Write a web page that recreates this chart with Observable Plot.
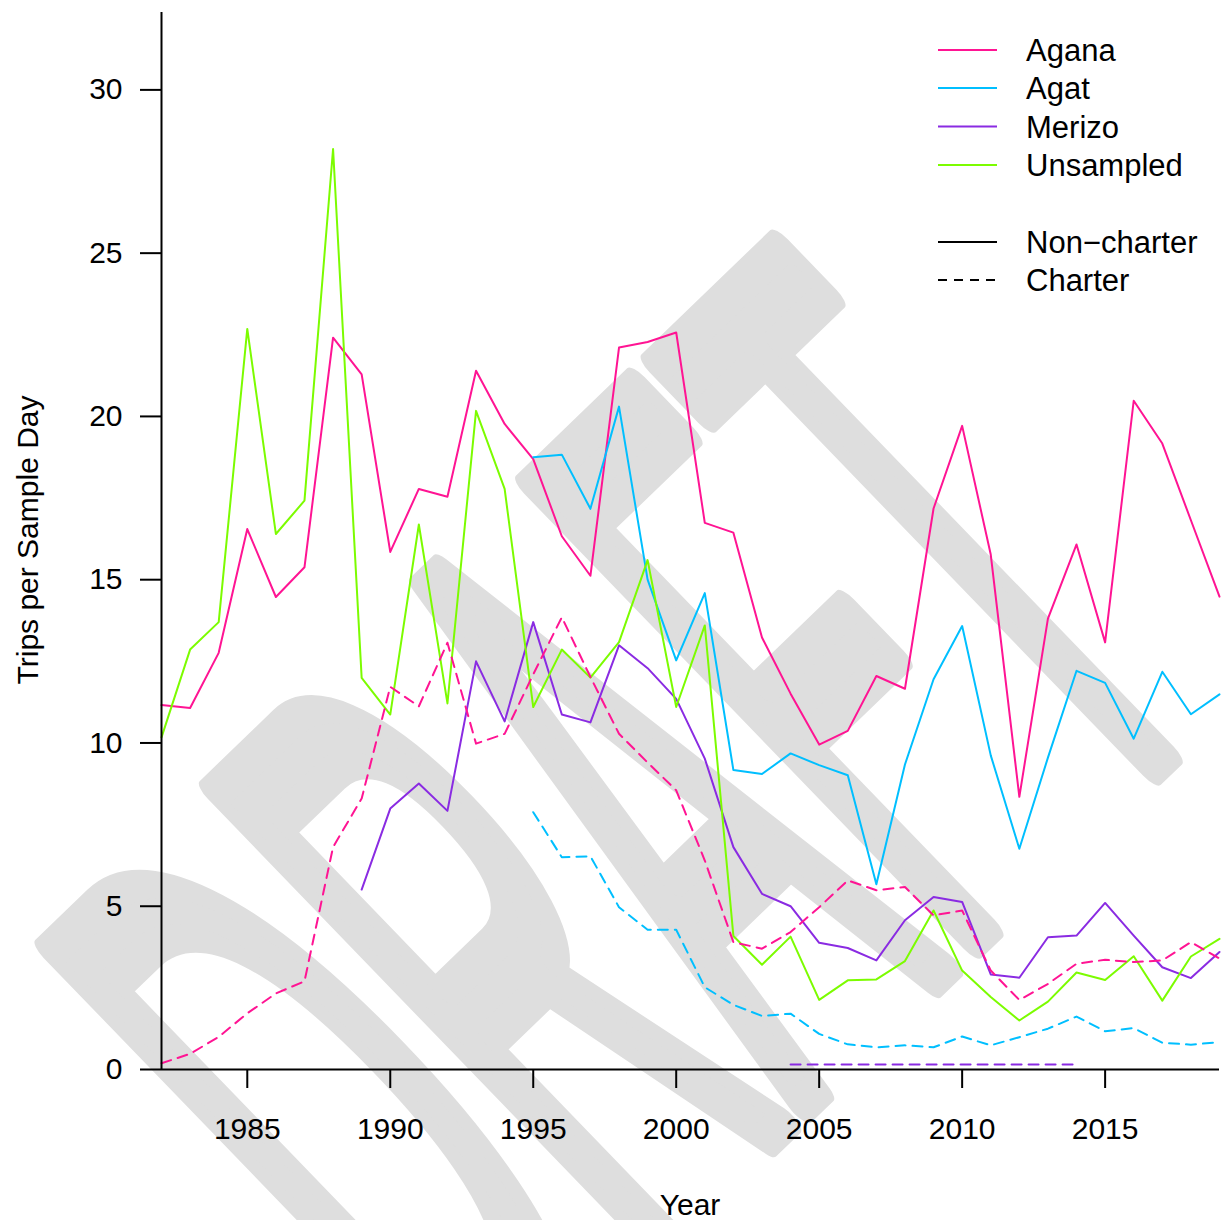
<!DOCTYPE html>
<html><head><meta charset="utf-8">
<script src="https://cdn.jsdelivr.net/npm/d3@7"></script>
<script src="https://cdn.jsdelivr.net/npm/@observablehq/plot@0.6"></script>
<style>
html,body{margin:0;padding:0;background:#fff;}
#chart{width:1221px;height:1220px;}
</style></head><body><div id="chart"></div>
<script>
// ---- data ----
const years = [1982,1983,1984,1985,1986,1987,1988,1989,1990,1991,1992,1993,1994,1995,1996,1997,1998,1999,2000,
  2001,2002,2003,2004,2005,2006,2007,2008,2009,2010,2011,2012,2013,2014,2015,2016,2017,2018,2019];
const sites = ["Agana","Agat","Merizo","Unsampled"];
const siteColors = ["#FF1493","#00BFFF","#8A2BE2","#7CFC00"];
const xTicks = [1985,1990,1995,2000,2005,2010,2015];
const yTicks = [0,5,10,15,20,25,30];

// Non-charter trips per sample day
const aganaNon = [11.16,11.07,12.76,16.55,14.47,15.38,22.41,21.29,15.85,17.78,17.54,21.40,19.77,18.69,16.33,15.12,22.11,22.28,22.57,
  16.74,16.44,13.23,11.51,9.95,10.37,12.05,11.66,17.18,19.71,15.77,8.35,13.81,16.08,13.08,20.48,19.17,16.82,14.48];
const agatNon = [null,null,null,null,null,null,null,null,null,null,null,null,null,18.75,18.83,17.17,20.30,15.00,12.53,
  14.59,9.17,9.05,9.68,9.32,9.01,5.67,9.34,11.95,13.58,9.62,6.76,9.55,12.21,11.84,10.13,12.18,10.88,11.49];
const merizoNon = [null,null,null,null,null,null,null,5.51,7.99,8.76,7.92,12.50,10.66,13.70,10.87,10.63,12.99,12.29,11.35,
  9.52,6.81,5.38,5.00,3.88,3.72,3.34,4.57,5.28,5.13,2.91,2.81,4.05,4.10,5.10,4.10,3.13,2.80,3.60];
const unsampledNon = [10.17,12.86,13.70,22.68,16.40,17.42,28.19,11.99,10.87,16.69,11.21,20.17,17.78,11.10,12.86,12.00,13.09,15.60,11.10,
  13.60,4.09,3.21,4.07,2.13,2.73,2.76,3.32,4.87,3.03,2.22,1.50,2.08,2.97,2.74,3.47,2.11,3.46,4.00];
// Charter trips per sample day
const aganaCh = [0.19,0.48,1.00,1.72,2.33,2.70,6.81,8.30,11.72,11.12,13.07,9.98,10.28,12.10,13.85,12.02,10.28,9.40,8.55,
  6.40,3.90,3.70,4.21,4.97,5.79,5.49,5.59,4.72,4.87,3.03,2.13,2.62,3.24,3.36,3.29,3.34,3.90,3.40];
const agatCh = [null,null,null,null,null,null,null,null,null,null,null,null,null,7.88,6.50,6.53,4.97,4.28,4.28,
  2.52,1.98,1.64,1.71,1.09,0.77,0.68,0.74,0.68,1.01,0.74,0.99,1.25,1.62,1.17,1.27,0.82,0.76,0.84];
const merizoCh = [null,null,null,null,null,null,null,null,null,null,null,null,null,null,null,null,null,null,null,
  null,null,null,0.15,0.15,0.15,0.15,0.15,0.15,0.15,0.15,0.15,0.15,0.15,null,null,null,null,null];

const series = [
  {site:"Agana", type:"Non-charter", values:aganaNon},
  {site:"Agat", type:"Non-charter", values:agatNon},
  {site:"Merizo", type:"Non-charter", values:merizoNon},
  {site:"Unsampled", type:"Non-charter", values:unsampledNon},
  {site:"Agana", type:"Charter", values:aganaCh},
  {site:"Agat", type:"Charter", values:agatCh},
  {site:"Merizo", type:"Charter", values:merizoCh}
];
const rows = series.flatMap(s => years.map((year, i) => ({year, value: s.values[i], site: s.site, type: s.type})))
  .filter(d => d.value != null);

const FONT = "'Liberation Sans', Arial, Helvetica, sans-serif";
const W = 1221, H = 1220;
const plot = Plot.plot({
  width: W, height: H,
  marginLeft: 161, marginRight: 2, marginTop: 12, marginBottom: 151,
  style: {fontFamily: FONT, fontSize: "30px", background: "transparent", color: "#000"},
  x: {domain: [1982, 2019]},
  y: {domain: [0, 32.37]},
  color: {domain: sites, range: siteColors},
  marks: [
    Plot.lineY(rows.filter(d => d.type === "Non-charter"), {x: "year", y: "value", z: "site", stroke: "site", strokeWidth: 2}),
    Plot.lineY(rows.filter(d => d.type === "Charter"), {x: "year", y: "value", z: "site", stroke: "site", strokeWidth: 2, strokeDasharray: "10,7"}),
    Plot.axisX({ticks: xTicks, tickSize: 19, tickPadding: 29, tickFormat: d => String(d), label: null, strokeWidth: 2}),
    Plot.axisY({ticks: yTicks, tickSize: 21, tickPadding: 18, label: null, strokeWidth: 2}),
    Plot.ruleX([1982], {strokeWidth: 2}),
    Plot.ruleY([0], {strokeWidth: 2})
  ]
});
document.getElementById("chart").appendChild(plot);

const svg = d3.select(plot);
// DRAFT watermark behind everything
svg.insert("text", ":first-child")
  .attr("transform", "translate(1228,694) rotate(-44) scale(0.86,2.5)")
  .attr("text-anchor", "end")
  .attr("font-family", FONT)
  .attr("font-size", 368)
  .attr("fill", "#dedede")
  .attr("stroke", "#dedede")
  .attr("stroke-width", 28)
  .attr("stroke-linejoin", "round")
  .attr("vector-effect", "non-scaling-stroke")
  .text("DRAFT");

// axis titles
svg.append("text").attr("x", 690).attr("y", 1215).attr("text-anchor", "middle")
  .attr("font-family", FONT).attr("font-size", 30).attr("fill", "#000").text("Year");
svg.append("text").attr("transform", "translate(38,540) rotate(-90)").attr("text-anchor", "middle")
  .attr("font-family", FONT).attr("font-size", 30).attr("fill", "#000").text("Trips per Sample Day");

// legend
const legendItems = [
  {label: "Agana", color: siteColors[0], dash: null, y: 50},
  {label: "Agat", color: siteColors[1], dash: null, y: 88},
  {label: "Merizo", color: siteColors[2], dash: null, y: 126.5},
  {label: "Unsampled", color: siteColors[3], dash: null, y: 165},
  {label: "Non\u2212charter", color: "#000", dash: null, y: 242},
  {label: "Charter", color: "#000", dash: "9,7", y: 280}
];
const lg = svg.append("g");
legendItems.forEach(it => {
  lg.append("line").attr("x1", 938).attr("x2", 997).attr("y1", it.y).attr("y2", it.y)
    .attr("stroke", it.color).attr("stroke-width", 2).attr("stroke-dasharray", it.dash);
  lg.append("text").attr("x", 1026).attr("y", it.y).attr("dy", "0.36em").attr("text-anchor", "start")
    .attr("font-family", FONT).attr("font-size", 31).attr("fill", "#000").text(it.label);
});
</script></body></html>
